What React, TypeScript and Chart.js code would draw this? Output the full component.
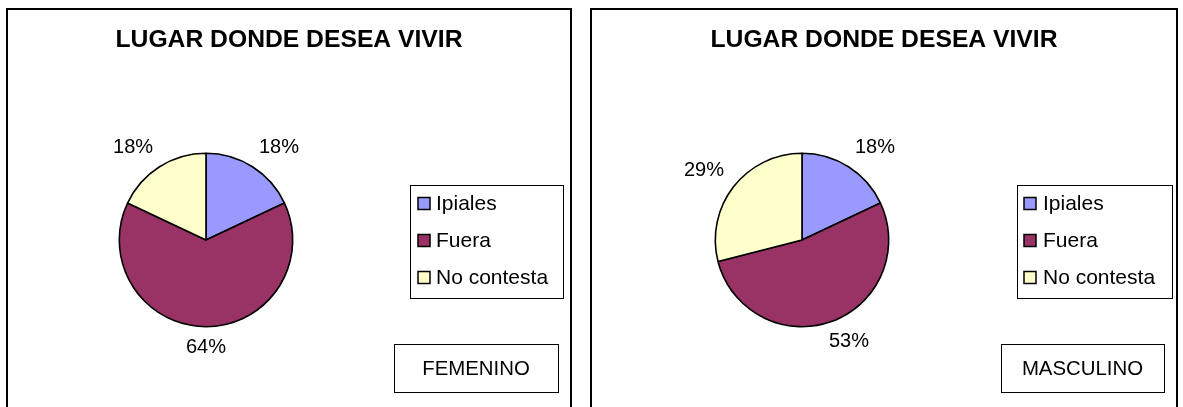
import React, { useEffect, useRef } from "react";
import { Chart, registerables } from "chart.js";

Chart.register(...registerables);

const TITLE = "LUGAR DONDE DESEA VIVIR";
const CATEGORIES = ["Ipiales", "Fuera", "No contesta"];
const FEMENINO_VALUES = [18, 64, 18];
const MASCULINO_VALUES = [18, 53, 29];
const PANEL_LABELS = ["FEMENINO", "MASCULINO"];
const COLORS = ["#9999FF", "#993366", "#FFFFCC"];

const FONT = "'Liberation Sans', Arial, Helvetica, sans-serif";

type PanelProps = {
  values: number[];
  label: string;
  left: number;
  width: number;
  canvasLeft: number;
  canvasWidth: number;
  padding: { left: number; right: number; top: number; bottom: number };
  legendBox: { x: number; y: number; w: number; h: number; sw: number; tx: number };
  sexBox: { x: number; y: number; w: number; h: number };
};

const CANVAS_TOP = 10;
const CANVAS_H = 397;

function Panel(p: PanelProps) {
  const ref = useRef<HTMLCanvasElement | null>(null);
  useEffect(() => {
    if (!ref.current) return;
    const decor = {
      id: "decor",
      afterDraw(chart: any) {
        const ctx = chart.ctx as CanvasRenderingContext2D;
        ctx.save();
        // title
        ctx.fillStyle = "#000";
        ctx.font = `bold 24.7px ${FONT}`;
        ctx.textAlign = "center";
        ctx.textBaseline = "middle";
        ctx.fillText(TITLE, chart.width / 2, 30);

        // percentage labels
        ctx.font = `20px ${FONT}`;
        const meta = chart.getDatasetMeta(0);
        const ds = chart.data.datasets[0].data as number[];
        const total = ds.reduce((a, b) => a + b, 0);
        meta.data.forEach((arc: any, i: number) => {
          const { x, y, startAngle, endAngle, outerRadius } = arc.getProps(
            ["x", "y", "startAngle", "endAngle", "outerRadius"],
            true
          );
          const mid = (startAngle + endAngle) / 2;
          const dx = Math.cos(mid);
          const dy = Math.sin(mid);
          const text = Math.round((ds[i] / total) * 100) + "%";
          const w = ctx.measureText(text).width;
          const clamp = (v: number) => Math.max(-1, Math.min(1, v));
          const r = outerRadius + 12;
          const lx = x + r * dx + clamp(2 * dx) * (w / 2);
          const ly = y + r * dy + clamp(2 * dy) * 9;
          ctx.textAlign = "center";
          ctx.textBaseline = "middle";
          ctx.fillText(text, lx, ly);
        });

        // legend
        const lb = p.legendBox;
        ctx.fillStyle = "#fff";
        ctx.fillRect(lb.x, lb.y, lb.w, lb.h);
        ctx.strokeStyle = "#000";
        ctx.lineWidth = 1;
        ctx.strokeRect(lb.x + 0.5, lb.y + 0.5, lb.w, lb.h);
        const labels = chart.data.labels as string[];
        const colors = chart.data.datasets[0].backgroundColor as string[];
        labels.forEach((lab, i) => {
          const cy = lb.y + 18.5 + i * 37;
          const s = 12;
          ctx.fillStyle = colors[i];
          ctx.fillRect(lb.x + lb.sw, cy - s / 2, s, s);
          ctx.lineWidth = 1.5;
          ctx.strokeStyle = "#000";
          ctx.strokeRect(lb.x + lb.sw, cy - s / 2, s, s);
          ctx.fillStyle = "#000";
          ctx.font = `21px ${FONT}`;
          ctx.textAlign = "left";
          ctx.textBaseline = "middle";
          ctx.fillText(lab, lb.x + lb.tx, cy + 1);
        });

        // sex box
        const sb = p.sexBox;
        ctx.lineWidth = 1;
        ctx.strokeStyle = "#000";
        ctx.strokeRect(sb.x + 0.5, sb.y + 0.5, sb.w, sb.h);
        ctx.fillStyle = "#000";
        ctx.textAlign = "center";
        ctx.textBaseline = "middle";
        ctx.font = `20.4px ${FONT}`;
        ctx.fillText(p.label, sb.x + sb.w / 2, sb.y + sb.h / 2 + 1);
        ctx.restore();
      },
    };
    const chart = new Chart(ref.current, {
      type: "pie",
      data: {
        labels: CATEGORIES,
        datasets: [
          {
            data: p.values,
            backgroundColor: COLORS,
            borderColor: "#000",
            borderWidth: 1.6,
          },
        ],
      },
      options: {
        animation: false,
        responsive: false,
        devicePixelRatio: 1,
        layout: { padding: p.padding },
        plugins: {
          legend: { display: false },
          title: { display: false },
          tooltip: { enabled: false },
        },
      },
      plugins: [decor],
    });
    return () => chart.destroy();
  }, []);

  return (
    <>
      <div
        style={{
          position: "absolute",
          left: p.left,
          top: 8,
          width: p.width,
          height: 430,
          border: "2px solid #000",
          boxSizing: "border-box",
          background: "#fff",
        }}
      />
      <canvas
        ref={ref}
        width={p.canvasWidth}
        height={CANVAS_H}
        style={{
          position: "absolute",
          left: p.canvasLeft,
          top: CANVAS_TOP,
          width: p.canvasWidth,
          height: CANVAS_H,
        }}
      />
    </>
  );
}

export default function App() {
  return (
    <div
      style={{
        position: "fixed",
        left: 0,
        top: 0,
        width: 1183,
        height: 407,
        overflow: "hidden",
        background: "#fff",
      }}
    >
      <Panel
        values={FEMENINO_VALUES}
        label={PANEL_LABELS[0]}
        left={6}
        width={566}
        canvasLeft={8}
        canvasWidth={562}
        padding={{ left: 110.5, right: 276.5, top: 142.5, bottom: 79.5 }}
        legendBox={{ x: 402, y: 175, w: 153, h: 113, sw: 8, tx: 26 }}
        sexBox={{ x: 386, y: 334, w: 164, h: 48 }}
      />
      <Panel
        values={MASCULINO_VALUES}
        label={PANEL_LABELS[1]}
        left={590}
        width={588}
        canvasLeft={592}
        canvasWidth={584}
        padding={{ left: 122.5, right: 286.5, top: 142.5, bottom: 79.5 }}
        legendBox={{ x: 425, y: 175, w: 155, h: 113, sw: 7, tx: 26 }}
        sexBox={{ x: 409, y: 334, w: 163, h: 48 }}
      />
    </div>
  );
}
